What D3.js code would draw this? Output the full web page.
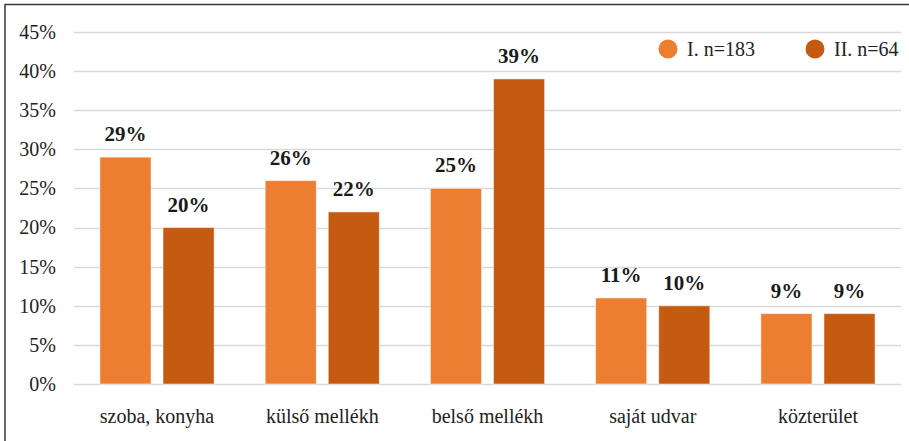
<!DOCTYPE html>
<html><head><meta charset="utf-8">
<script src="https://cdn.jsdelivr.net/npm/d3@7"></script>
<style>body{margin:0;background:#fff}svg{display:block}</style>
</head><body><svg id="c" width="909" height="441"></svg>
<script>
const categories = ["szoba, konyha", "külső mellékh", "belső mellékh", "saját udvar", "közterület"];
const seriesNames = ["I. n=183", "II. n=64"];
const seriesI = [29, 26, 25, 11, 9];
const seriesII = [20, 22, 39, 10, 9];
const yTicks = [0, 5, 10, 15, 20, 25, 30, 35, 40, 45];
const colors = ["#ED7D31", "#C55A11"];

const svg = d3.select("#c");
const W = 909, H = 441;
const m = {left: 74, right: 8, top: 32, bottom: 57};
const font = "'Liberation Serif','Times New Roman',serif";

svg.append("rect").attr("x", 5).attr("y", 4.5).attr("width", W + 10).attr("height", H + 10)
  .attr("fill", "#fff").attr("stroke", "#3a3a3a").attr("stroke-width", 1.5);

const x = d3.scaleBand().domain(categories).range([m.left, W - m.right]).paddingInner(0.309).paddingOuter(0.157);
const xs = d3.scaleBand().domain([0, 1]).range([0, x.bandwidth()]).paddingInner(0.19);
const y = d3.scaleLinear().domain([0, 45]).range([H - m.bottom, m.top]);

const g = svg.append("g");
g.append("g").selectAll("line").data(yTicks).join("line")
  .attr("x1", m.left).attr("x2", W - m.right)
  .attr("y1", d => Math.round(y(d)) + 0.5).attr("y2", d => Math.round(y(d)) + 0.5)
  .attr("stroke", "#d9d9d9").attr("stroke-width", 1.3);

const yAxis = d3.axisLeft(y).tickValues(yTicks).tickFormat(d => d + "%").tickSize(0).tickPadding(0);
const ya = svg.append("g").attr("transform", `translate(56,0)`).call(yAxis);
ya.select(".domain").remove();
ya.selectAll("text").attr("font-family", font).attr("font-size", 20).attr("fill", "#222");

const data = categories.map((c, i) => ({c, v: [seriesI[i], seriesII[i]]}));
const grp = svg.append("g").selectAll("g").data(data).join("g")
  .attr("transform", d => `translate(${x(d.c)},0)`);
grp.selectAll("rect").data(d => d.v.map((v, k) => ({v, k}))).join("rect")
  .attr("x", d => xs(d.k)).attr("width", xs.bandwidth())
  .attr("y", d => y(d.v)).attr("height", d => y(0) - y(d.v))
  .attr("fill", d => colors[d.k]).attr("stroke", "#fff").attr("stroke-opacity", 0.5).attr("stroke-width", 1);
grp.selectAll("text").data(d => d.v.map((v, k) => ({v, k}))).join("text")
  .attr("x", d => xs(d.k) + xs.bandwidth() / 2).attr("y", d => y(d.v) - 16)
  .attr("text-anchor", "middle").attr("font-family", font).attr("font-weight", "bold")
  .attr("font-size", 21).attr("fill", "#1a1a1a").text(d => d.v + "%");

const xAxis = d3.axisBottom(x).tickSize(0).tickPadding(0);
const xa = svg.append("g").attr("transform", `translate(0,${y(0) + 39})`).call(xAxis);
xa.select(".domain").remove();
xa.selectAll("text").attr("font-family", font).attr("font-size", 20).attr("fill", "#222").attr("dy", 0);

const leg = svg.append("g");
const legX = [668, 815];
seriesNames.forEach((s, k) => {
  leg.append("circle").attr("cx", legX[k]).attr("cy", 49).attr("r", 9.5).attr("fill", colors[k]);
  leg.append("text").attr("x", legX[k] + 19).attr("y", 49).attr("dy", "0.35em")
    .attr("font-family", font).attr("font-size", 20).attr("fill", "#222").text(s);
});
</script></body></html>
